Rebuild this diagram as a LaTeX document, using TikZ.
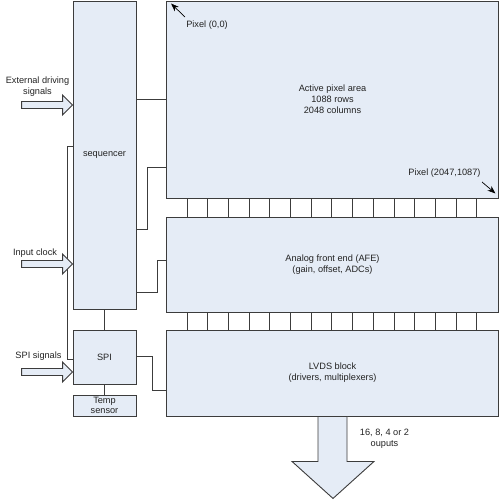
\documentclass[tikz,border=0pt]{standalone}
\usepackage{fontspec}
\setmainfont{Liberation Sans}
\usepackage{tikz}
\usetikzlibrary{arrows.meta}
\definecolor{boxfill}{RGB}{229,236,246}
\definecolor{linegray}{RGB}{60,60,60}
\definecolor{textgray}{RGB}{35,35,35}

\begin{document}
\begin{tikzpicture}[x=1pt,y=-1pt,
    font=\fontsize{9.2}{11}\selectfont, text=textgray,
    blk/.style={draw=linegray, line width=0.9pt, fill=boxfill, align=center, inner sep=0pt},
    wire/.style={draw=linegray, line width=0.9pt},
    inarrow/.style={draw=linegray, line width=0.9pt, fill=boxfill, line join=miter},
    ptr/.style={draw=black, line width=0.7pt, -{Stealth[length=8pt,width=6pt]}},
    lbl/.style={align=center, inner sep=1pt}]
    \useasboundingbox (0,0) rectangle (500,500);

    % 左侧模块
    \node[blk, minimum width=63pt, minimum height=308pt] (seq) at (104.5,155) {sequencer};
    \node[blk, minimum width=63pt, minimum height=54pt] (spi) at (104.5,357) {SPI};
    \node[blk, minimum width=63pt, minimum height=21pt] (temp) at (104.5,405.5) {Temp\\[-1pt]sensor};

    % 右侧模块
    \node[blk, minimum width=332pt, minimum height=197pt] (active) at (332.5,99.5) {Active pixel area\\1088 rows\\2048 columns};
    \node[blk, minimum width=332pt, minimum height=95pt] (afe) at (332.5,264.5) {Analog front end (AFE)\\(gain, offset, ADCs)};
    \node[blk, minimum width=332pt, minimum height=86pt] (lvds) at (332.5,373) {LVDS block\\(drivers, multiplexers)};

    % 列线
    \foreach \i in {0,...,14} {
        \draw[wire] ([xshift=21pt+20.69pt*\i]active.south west) -- ([xshift=21pt+20.69pt*\i]afe.north west);
        \draw[wire] ([xshift=21pt+20.69pt*\i]afe.south west) -- ([xshift=21pt+20.69pt*\i]lvds.north west);
    }

    % 连线
    \draw[wire] (seq.east |- active.west) -- (active.west);
    \draw[wire] (seq.east |- 0,229) -- ++(11,0) |- (active.west |- 0,167);
    \draw[wire] (seq.east |- 0,292) -- ++(21,0) |- (afe.west |- 0,260);
    \draw[wire] (spi.east |- 0,356) -- ++(16,0) |- (lvds.west |- 0,390);
    \draw[wire] (seq.south) -- (spi.north);
    \draw[wire] (spi.south) -- (temp.north);
    \draw[wire] (seq.west |- 0,146) -- ++(-5,0) |- (spi.west |- 0,359);

    % 输入箭头
    \foreach \y/\n in {105/seq, 264/seq, 372/spi}
        \draw[inarrow] (\n.west |- 0,\y) -- ++(-10,-10) -- ++(0,6.5) -- ++(-41,0) -- ++(0,7) -- ++(41,0) -- ++(0,6.5) -- cycle;
    \node[lbl] (ext) at (37.5,86.5) {External driving\\signals};
    \node[lbl] (clk) at (35,253) {Input clock};
    \node[lbl] (spisig) at (38.5,356) {SPI signals};

    % 输出箭头
    \draw[inarrow] ([xshift=-14.5pt]lvds.south) -- ++(0,45) -- ++(-26,0) -- ++(41,37) -- ++(41,-37) -- ++(-27,0) -- ++(0,-45) -- cycle;
    \node[lbl] (outs) at (384.5,438.5) {16, 8, 4 or 2\\ouputs};

    % 像素标注
    \node[lbl] (p00) at (207,25) {Pixel (0,0)};
    \coordinate (t00) at (185,17);
    \draw[ptr] (t00) -- ([shift={(5,3)}]active.north west);
    \node[lbl] (pend) at (444.5,173) {Pixel (2047,1087)};
    \coordinate (tend) at (482,182);
    \draw[ptr] (tend) -- ([shift={(-3.5,-5)}]active.south east);
\end{tikzpicture}
\end{document}
